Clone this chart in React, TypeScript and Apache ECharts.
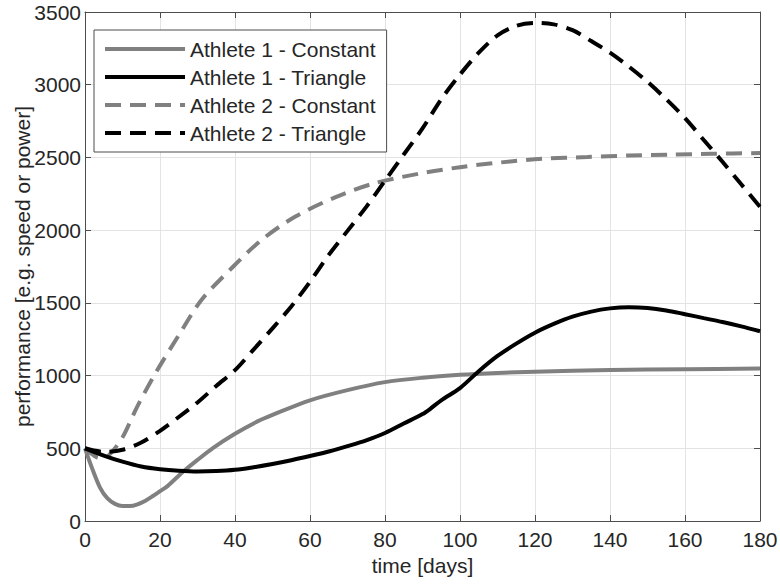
import React, { useEffect, useRef } from "react";
import * as echarts from "echarts";

const xTicks = [0, 20, 40, 60, 80, 100, 120, 140, 160, 180];
const yTicks = [0, 500, 1000, 1500, 2000, 2500, 3000, 3500];

const a1ConstDays = [0, 2, 4, 6, 8, 10, 12, 14, 16, 18, 20, 22, 26, 30, 34, 40, 46, 50, 60, 70, 80, 90, 100, 110, 120, 140, 160, 180];
const a1ConstVals = [500, 355, 230, 155, 118, 103, 103, 115, 138, 170, 205, 240, 335, 420, 500, 600, 685, 730, 830, 900, 955, 985, 1005, 1018, 1027, 1038, 1044, 1048];

const a1TriDays = [0, 5, 10, 15, 20, 25, 30, 35, 40, 45, 50, 55, 60, 65, 70, 75, 80, 85, 90, 92, 95, 100, 105, 110, 115, 120, 125, 130, 135, 140, 145, 150, 155, 160, 165, 170, 175, 180];
const a1TriVals = [500, 450, 408, 375, 356, 345, 340, 343, 352, 370, 392, 418, 447, 478, 515, 555, 605, 670, 735, 770, 830, 914, 1030, 1135, 1220, 1295, 1355, 1405, 1440, 1462, 1470, 1465, 1448, 1422, 1395, 1368, 1338, 1305];

const a2ConstDays = [0, 3, 5, 7, 10, 14, 19, 25, 31, 39, 47, 56, 67, 77, 89, 100, 111, 122, 134, 145, 156, 167, 180];
const a2ConstVals = [500, 440, 430, 470, 575, 790, 1025, 1277, 1518, 1736, 1931, 2092, 2229, 2321, 2388, 2433, 2466, 2491, 2503, 2513, 2519, 2525, 2530];

const a2TriDays = [0, 5, 10, 15, 20, 25, 30, 35, 40, 45, 50, 55, 60, 65, 70, 75, 80, 85, 90, 95, 100, 105, 110, 115, 120, 125, 130, 135, 140, 145, 150, 155, 160, 165, 170, 175, 180];
const a2TriVals = [500, 475, 490, 540, 620, 715, 815, 929, 1037, 1180, 1325, 1475, 1645, 1830, 1995, 2160, 2340, 2520, 2700, 2900, 3070, 3220, 3340, 3405, 3425, 3415, 3375, 3300, 3220, 3125, 3020, 2900, 2770, 2620, 2470, 2315, 2160];

const seriesNames = ["Athlete 1 - Constant", "Athlete 1 - Triangle", "Athlete 2 - Constant", "Athlete 2 - Triangle"];

const zip = (xs: number[], ys: number[]) => xs.map((x, i) => [x, ys[i]]);

const FONT = "Liberation Sans, Arial, Helvetica, sans-serif";
const TEXT = "#262626";
const AXIS = "#4d4d4d";
const GRIDC = "#e3e3e3";
const GRAY = "#808080";

export default function App() {
  const ref = useRef<HTMLDivElement>(null);
  useEffect(() => {
    if (!ref.current) return;
    const chart = echarts.init(ref.current, undefined, { renderer: "svg" });
    const xMin = xTicks[0];
    const xMax = xTicks[xTicks.length - 1];
    const yMin = yTicks[0];
    const yMax = yTicks[yTicks.length - 1];
    const plain = (v: number) => String(v);
    const mkLine = (name: string, data: number[][], color: string, dashed: boolean, z: number) => ({
      name,
      type: "line",
      data,
      showSymbol: false,
      symbol: "none",
      smooth: 0.3,
      z,
      lineStyle: { color, width: 4, type: dashed ? [16, 9] : "solid" },
      itemStyle: { color },
    });
    chart.setOption({
      animation: false,
      backgroundColor: "#ffffff",
      textStyle: { fontFamily: FONT, color: TEXT },
      grid: { left: 85, right: 20, top: 12, bottom: 63, containLabel: false, outerBoundsMode: "none" },
      legend: {
        orient: "vertical",
        left: 94,
        top: 30,
        padding: [8, 11, 8, 9],
        itemWidth: 80,
        itemHeight: 14,
        itemGap: 6,
        backgroundColor: "#ffffff",
        borderColor: AXIS,
        borderWidth: 1,
        itemStyle: { color: "rgba(0,0,0,0)", borderWidth: 0, opacity: 0 },
        lineStyle: { width: 4 },
        textStyle: { fontFamily: FONT, fontSize: 21, color: TEXT, lineHeight: 22 },
        data: seriesNames,
      },
      xAxis: [
        {
          type: "value",
          min: xMin,
          max: xMax,
          interval: 20,
          name: "time [days]",
          nameLocation: "middle",
          nameGap: 34,
          nameMoveOverlap: false,
          nameTextStyle: { fontFamily: FONT, fontSize: 21, color: TEXT },
          axisLine: { show: true, lineStyle: { color: AXIS, width: 1 } },
          axisTick: { show: true, inside: true, length: 6, lineStyle: { color: AXIS } },
          axisLabel: { fontFamily: FONT, fontSize: 21, color: TEXT, margin: 8, formatter: plain },
          splitLine: { show: true, lineStyle: { color: GRIDC, width: 1 } },
        },
        {
          type: "value",
          position: "top",
          min: xMin,
          max: xMax,
          interval: 20,
          axisLine: { show: true, onZero: false, lineStyle: { color: AXIS, width: 1 } },
          axisTick: { show: true, inside: true, length: 6, lineStyle: { color: AXIS } },
          axisLabel: { show: false },
          splitLine: { show: false },
        },
      ],
      yAxis: [
        {
          type: "value",
          min: yMin,
          max: yMax,
          interval: 500,
          name: "performance [e.g. speed or power]",
          nameLocation: "middle",
          nameGap: 52,
          nameMoveOverlap: false,
          nameTextStyle: { fontFamily: FONT, fontSize: 21, color: TEXT },
          axisLine: { show: true, lineStyle: { color: AXIS, width: 1 } },
          axisTick: { show: true, inside: true, length: 6, lineStyle: { color: AXIS } },
          axisLabel: { fontFamily: FONT, fontSize: 21, color: TEXT, margin: 4, formatter: plain },
          splitLine: { show: true, lineStyle: { color: GRIDC, width: 1 } },
        },
        {
          type: "value",
          position: "right",
          min: yMin,
          max: yMax,
          interval: 500,
          axisLine: { show: true, onZero: false, lineStyle: { color: AXIS, width: 1 } },
          axisTick: { show: true, inside: true, length: 6, lineStyle: { color: AXIS } },
          axisLabel: { show: false },
          splitLine: { show: false },
        },
      ],
      series: [
        mkLine(seriesNames[0], zip(a1ConstDays, a1ConstVals), GRAY, false, 3),
        mkLine(seriesNames[1], zip(a1TriDays, a1TriVals), "#000000", false, 4),
        mkLine(seriesNames[2], zip(a2ConstDays, a2ConstVals), GRAY, true, 3),
        mkLine(seriesNames[3], zip(a2TriDays, a2TriVals), "#000000", true, 4),
      ],
    });
    return () => chart.dispose();
  }, []);
  return <div ref={ref} style={{ width: 780, height: 584, position: "absolute", left: 0, top: 0 }} />;
}
